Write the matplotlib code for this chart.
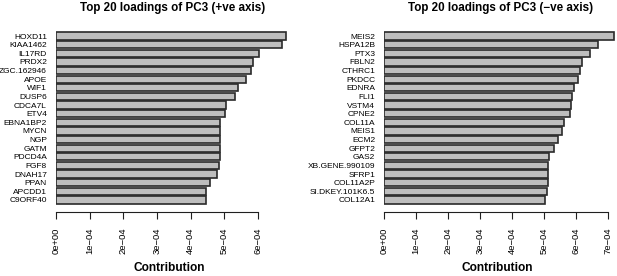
import matplotlib
matplotlib.use("Agg")
import matplotlib.pyplot as plt
import numpy as np

plt.rcParams['font.family'] = ['Liberation Sans', 'DejaVu Sans']

# ---- data ----
pos_genes = ["HOXD11", "KIAA1462", "IL17RD", "PRDX2", "ZGC.162946", "APOE", "WIF1",
             "DUSP6", "CDCA7L", "ETV4", "EBNA1BP2", "MYCN", "NGP", "GATM", "PDCD4A",
             "FGF8", "DNAH17", "PPAN", "APCDD1", "C9ORF40"]
pos_vals = [6.82, 6.71, 6.02, 5.86, 5.80, 5.63, 5.39, 5.31, 5.05, 5.02,
            4.88, 4.87, 4.87, 4.87, 4.86, 4.84, 4.77, 4.56, 4.46, 4.44]

neg_genes = ["MEIS2", "HSPA12B", "PTX3", "FBLN2", "CTHRC1", "PKDCC", "EDNRA", "FLI1",
             "VSTM4", "CPNE2", "COL11A", "MEIS1", "ECM2", "GFPT2", "GAS2",
             "XB.GENE.990109", "SFRP1", "COL11A2P", "SI.DKEY.101K6.5", "COL12A1"]
neg_vals = [7.20, 6.69, 6.43, 6.18, 6.14, 6.06, 5.94, 5.87, 5.86, 5.81,
            5.64, 5.57, 5.45, 5.33, 5.17, 5.14, 5.12, 5.12, 5.11, 5.05]

pos_ticks = [0, 1, 2, 3, 4, 5, 6]
neg_ticks = [0, 1, 2, 3, 4, 5, 6, 7]

W, H = 617, 276
fig = plt.figure(figsize=(W / 100, H / 100), dpi=100)


def panel(x0, x1, xmax, genes, vals, ticks, title):
    top, bot = 30, 206
    ax = fig.add_axes([x0 / W, 1 - bot / H, (x1 - x0) / W, (bot - top) / H])
    y = np.arange(len(genes))
    ax.barh(y, np.array(vals) * 1e-4, height=0.83, color="#bebebe",
            edgecolor="#2a2a2a", linewidth=1.2)
    ax.set_ylim(len(genes) - 0.3, -0.7)
    ax.set_xlim(0, xmax * 1e-4)
    ax.set_yticks(y)
    ax.set_yticklabels(genes, fontsize=6)
    ax.tick_params(axis='y', length=0, pad=6.5)
    for s in ['top', 'right', 'left']:
        ax.spines[s].set_visible(False)
    ax.spines['bottom'].set_position(('outward', 4.5))
    ax.spines['bottom'].set_bounds(0, ticks[-1] * 1e-4)
    ax.spines['bottom'].set_color("#202020")
    ax.set_xticks([t * 1e-4 for t in ticks])
    ax.set_xticklabels([("%de\u221204" % t) if t else "0e+00" for t in ticks],
                       rotation=90, fontsize=6.8)
    ax.tick_params(axis='x', length=4.7, pad=6.5, color="#202020")
    cx = (x0 + x1) / 2 / W
    fig.text(cx, 1 - 8 / H, title, ha='center', va='center',
             fontsize=8.4, fontweight='bold')
    fig.text(cx - 0.005, 1 - 268 / H, "Contribution", ha='center', va='center',
             fontsize=8.6, fontweight='bold')
    return ax


panel(56, 288.5, 6.9, pos_genes, pos_vals, pos_ticks,
      "Top 20 loadings of PC3 (+ve axis)")
panel(384.3, 617, 7.29, neg_genes, neg_vals, neg_ticks,
      "Top 20 loadings of PC3 (\u2212ve axis)")

fig.savefig("out.png", dpi=100)
